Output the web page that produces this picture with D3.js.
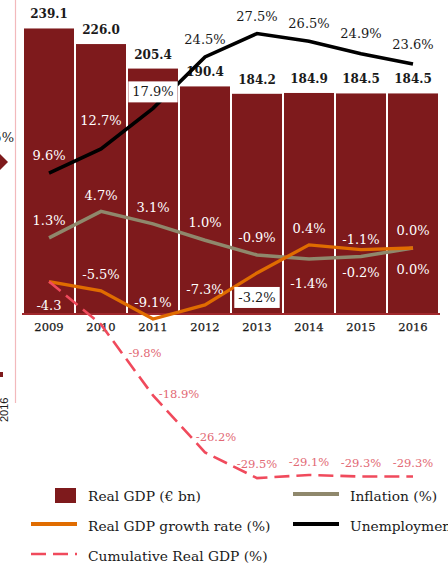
<!DOCTYPE html>
<html>
<head>
<meta charset="utf-8">
<script src="https://cdn.jsdelivr.net/npm/d3@7"></script>
<style>
  html, body { margin: 0; padding: 0; background: #fff; }
  svg { display: block; }
</style>
</head>
<body>
<svg id="chart" width="448" height="563"></svg>
<script>
// ---------------- DATA ----------------
const years = ["2009", "2010", "2011", "2012", "2013", "2014", "2015", "2016"];
const realGDP = [239.1, 226.0, 205.4, 190.4, 184.2, 184.9, 184.5, 184.5];
const realGDPLabels = ["239.1", "226.0", "205.4", "190.4", "184.2", "184.9", "184.5", "184.5"];
const unemployment = [9.6, 12.7, 17.9, 24.5, 27.5, 26.5, 24.9, 23.6];
const unemploymentLabels = ["9.6%", "12.7%", "17.9%", "24.5%", "27.5%", "26.5%", "24.9%", "23.6%"];
const inflation = [1.3, 4.7, 3.1, 1.0, -0.9, -1.4, -1.1, 0.0];
const inflationLabels = ["1.3%", "4.7%", "3.1%", "1.0%", "-0.9%", "-1.4%", "-1.1%", "0.0%"];
const growth = [-4.3, -5.5, -9.1, -7.3, -3.2, 0.4, -0.2, 0.0];
const growthLabels = ["-4.3", "-5.5%", "-9.1%", "-7.3%", "-3.2%", "0.4%", "-0.2%", "0.0%"];
const cumulative = [-4.3, -9.8, -18.9, -26.2, -29.5, -29.1, -29.3, -29.3];
const cumulativeLabels = ["", "-9.8%", "-18.9%", "-26.2%", "-29.5%", "-29.1%", "-29.3%", "-29.3%"];
const legendItems = ["Real GDP (€ bn)", "Inflation (%)", "Real GDP growth rate (%)", "Unemployment (%)", "Cumulative Real GDP (%)"];

// ---------------- LAYOUT (label offsets relative to points) ----------------
const layout = {
  unempDy: [-13, -24, -12, -13, -13, -13, -16, -15],
  unempBox: [false, false, true, false, false, false, false, false],
  inflDy: [-13, -11, -12, -13, -13, 29, -13, -13],
  growthDy: [28, -12, -12, -11, 29, -12, 27, 26],
  growthBox: [false, false, false, false, true, false, false, false],
  cumDx: [0, 44, 26, 11, 0, 0, 0, 0],
  cumDy: [0, 33, 3, -11, -10, -9, -10, -10]
};

const colors = {
  bar: "#7e1a1c",
  axisLine: "#a0282c",
  unemp: "#000000",
  infl: "#8f886c",
  growth: "#e06c00",
  cum: "#f04a5c",
  cumText: "#e26874",
  dark: "#1a1a1a"
};
const serif = "'DejaVu Serif', Georgia, serif";

const svg = d3.select("#chart");

// ---------------- SCALES ----------------
const x = d3.scaleBand().domain(years).range([23, 439]).paddingInner(2 / 52).paddingOuter(1 / 52);
const yBar = d3.scaleLinear().domain([0, 250]).range([313, 15.5]);
const yPct = d3.scaleLinear().domain([-30, 30]).range([482, 14]);
const cx = d => x(d) + x.bandwidth() / 2;

// ---------------- neighbour bleed at left edge ----------------
svg.append("line").attr("x1", 15.5).attr("x2", 15.5).attr("y1", 0).attr("y2", 403)
  .attr("stroke", "#f2b9bc").attr("stroke-width", 1.2);
svg.append("text").attr("x", 14).attr("y", 142).attr("text-anchor", "end")
  .attr("font-family", serif).attr("font-size", 13).attr("fill", colors.dark).text("6.5%");
svg.append("path").attr("d", "M0,154 L8,162 L0,170 L-8,162 Z").attr("fill", colors.bar);
svg.append("rect").attr("x", 0).attr("y", 372).attr("width", 3).attr("height", 5).attr("fill", colors.bar);
svg.append("text").attr("transform", "translate(8,422) rotate(-90)")
  .attr("font-family", "'Liberation Sans', Arial, sans-serif").attr("font-size", 11)
  .attr("fill", colors.dark).text("2016");

// ---------------- BARS ----------------
svg.append("g").selectAll("rect").data(years).join("rect")
  .attr("x", d => x(d)).attr("width", x.bandwidth())
  .attr("y", (d, i) => yBar(realGDP[i]))
  .attr("height", (d, i) => yBar(0) - yBar(realGDP[i]))
  .attr("fill", colors.bar);

svg.append("g").selectAll("text").data(years).join("text")
  .attr("x", d => cx(d)).attr("y", (d, i) => yBar(realGDP[i]) - 10)
  .attr("text-anchor", "middle").attr("font-family", serif).attr("font-weight", "bold")
  .attr("font-size", 12).attr("fill", colors.dark)
  .text((d, i) => realGDPLabels[i]);

// baseline
svg.append("line").attr("x1", 22).attr("x2", 440).attr("y1", yBar(0) + 1).attr("y2", yBar(0) + 1)
  .attr("stroke", colors.axisLine).attr("stroke-width", 2);

// x axis labels
const xAxis = d3.axisBottom(x).tickSize(0).tickPadding(8);
const gx = svg.append("g").attr("transform", `translate(0,${yBar(0) + 2})`).call(xAxis);
gx.select(".domain").remove();
gx.selectAll("text").attr("font-family", serif).attr("font-size", 11.5).attr("fill", colors.dark)
  .attr("stroke", colors.dark).attr("stroke-width", 0.25);

// ---------------- LINES ----------------
const line = vals => d3.line().x((d, i) => cx(years[i])).y(d => yPct(d))(vals);

svg.append("path").attr("d", line(inflation)).attr("fill", "none")
  .attr("stroke", colors.infl).attr("stroke-width", 3.5);
svg.append("path").attr("d", line(growth)).attr("fill", "none")
  .attr("stroke", colors.growth).attr("stroke-width", 3.3);
svg.append("path").attr("d", line(cumulative)).attr("fill", "none")
  .attr("stroke", colors.cum).attr("stroke-width", 2.6).attr("stroke-dasharray", "15,7");
svg.append("path").attr("d", line(unemployment)).attr("fill", "none")
  .attr("stroke", colors.unemp).attr("stroke-width", 3.6);

// ---------------- LABELS ----------------
function insideBar(yb, i) {
  return yb - 5 > yBar(realGDP[i]);
}

function addLabels(vals, labels, dyArr, boxArr, opts) {
  const g = svg.append("g");
  vals.forEach((v, i) => {
    if (!labels[i]) return;
    const px = cx(years[i]) + (opts.dx ? opts.dx[i] : 0);
    const py = yPct(v) + dyArr[i];
    const t = g.append("text").attr("x", px).attr("y", py).attr("text-anchor", "middle")
      .attr("font-family", serif).attr("font-size", opts.size || 13).text(labels[i]);
    if (boxArr && boxArr[i]) {
      const bb = t.node().getBBox();
      g.insert("rect", "text").attr("x", bb.x - 4).attr("y", bb.y - 3)
        .attr("width", bb.width + 8).attr("height", bb.height + 6).attr("fill", "#fff");
      t.attr("fill", colors.dark);
    } else if (opts.color) {
      t.attr("fill", opts.color);
    } else {
      t.attr("fill", insideBar(py, i) ? "#fff" : colors.dark);
    }
    t.raise();
  });
}

addLabels(unemployment, unemploymentLabels, layout.unempDy, layout.unempBox, {});
addLabels(inflation, inflationLabels, layout.inflDy, null, {});
addLabels(growth, growthLabels, layout.growthDy, layout.growthBox, {});
addLabels(cumulative, cumulativeLabels, layout.cumDy, null, { dx: layout.cumDx, color: colors.cumText, size: 11.5 });

// ---------------- LEGEND ----------------
const leg = svg.append("g").attr("font-family", serif).attr("font-size", 13.8).attr("fill", colors.dark);
const legPos = [
  { x: 88, y: 501, type: "rect", color: colors.bar },
  { x: 350, y: 501, type: "line", color: colors.infl },
  { x: 88, y: 531, type: "line", color: colors.growth },
  { x: 350, y: 531, type: "line", color: colors.unemp },
  { x: 88, y: 561, type: "dash", color: colors.cum }
];
legendItems.forEach((name, i) => {
  const p = legPos[i];
  if (p.type === "rect") {
    leg.append("rect").attr("x", p.x - 33).attr("y", p.y - 13).attr("width", 21).attr("height", 15).attr("fill", p.color);
  } else {
    leg.append("line").attr("x1", p.x - 57).attr("x2", p.x - 11).attr("y1", p.y - 7).attr("y2", p.y - 7)
      .attr("stroke", p.color).attr("stroke-width", p.type === "dash" ? 2.5 : 4)
      .attr("stroke-dasharray", p.type === "dash" ? "15,7" : null);
  }
  leg.append("text").attr("x", p.x).attr("y", p.y).text(name);
});
</script>
</body>
</html>
